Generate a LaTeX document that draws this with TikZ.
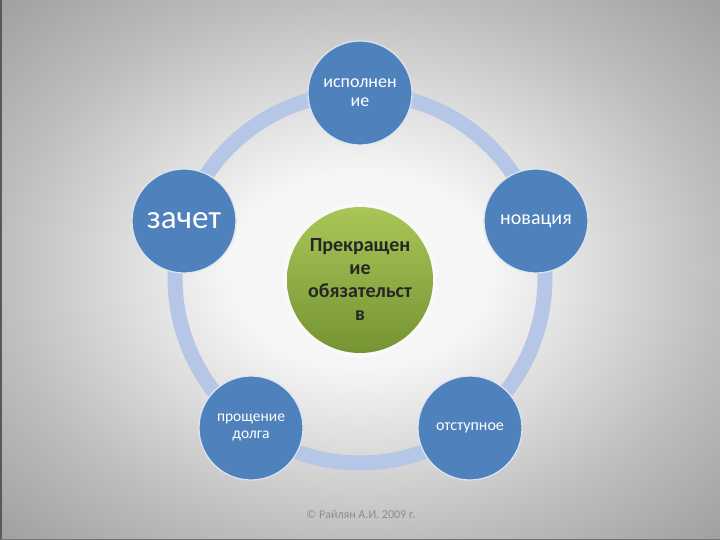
\documentclass[tikz,border=0pt]{standalone}
\usepackage{fontspec}
\setmainfont{Carlito}
\definecolor{bgin}{RGB}{246,246,246}
\definecolor{bgmid}{RGB}{190,190,190}
\definecolor{bgout}{RGB}{158,158,158}
\definecolor{ringc}{RGB}{182,198,230}
\definecolor{nodeblue}{RGB}{79,129,189}
\definecolor{greenlight}{RGB}{170,198,88}
\definecolor{greendark}{RGB}{116,148,50}
\definecolor{copyc}{RGB}{140,140,140}
\pgfdeclareradialshading{bgshade}{\pgfpoint{0bp}{0bp}}{color(0bp)=(bgin); color(9bp)=(bgin); color(25bp)=(bgmid); color(36bp)=(bgout); color(50bp)=(bgout)}
\begin{document}
\begin{tikzpicture}[x=1pt,y=-1pt,
  petal/.style={circle, fill=nodeblue, draw=white!80!nodeblue, line width=1.2pt,
    minimum size=104pt, inner sep=0pt, text=white, align=center},
  hub/.style={circle, minimum size=146pt, inner sep=0pt, align=center, text=black!85,
    top color=greenlight, bottom color=greendark,
    font=\bfseries\fontsize{20}{23}\selectfont},
  ring/.style={draw=ringc, line width=15pt}]
\useasboundingbox (0,0) rectangle (720,540);
\shade[shading=bgshade] (0,0) rectangle (720,540);
\draw[black!65, line width=1.5pt] (0.75,0) -- (0.75,540);
\draw[black!55, line width=1.2pt] (0,539.4) -- (720,539.4);
\coordinate (c) at (360,278);
\draw[ring] (c) circle[radius=185pt];
\fill[white, opacity=0.4] (360,280) circle[radius=77pt];
\node[hub] (hub) at (360,280) {Прекращен\\ие\\обязательст\\в};
\node[petal, font=\fontsize{18}{19}\selectfont] (top) at (360,93) {исполнен\\ие};
\node[petal, font=\fontsize{33}{35}\selectfont] (left) at (184,221) {зачет};
\node[petal, font=\fontsize{20}{22}\selectfont] (right) at (536,221) {новация};
\node[petal, font=\fontsize{15.5}{17}\selectfont] (bl) at (251,428) {прощение\\долга};
\node[petal, font=\fontsize{16}{18}\selectfont] (br) at (470,428) {отступное};
\node[text=copyc, font=\fontsize{12}{14}\selectfont] (copy) at (361,514) {© Райлян А.И. 2009 г.};
\end{tikzpicture}
\end{document}
